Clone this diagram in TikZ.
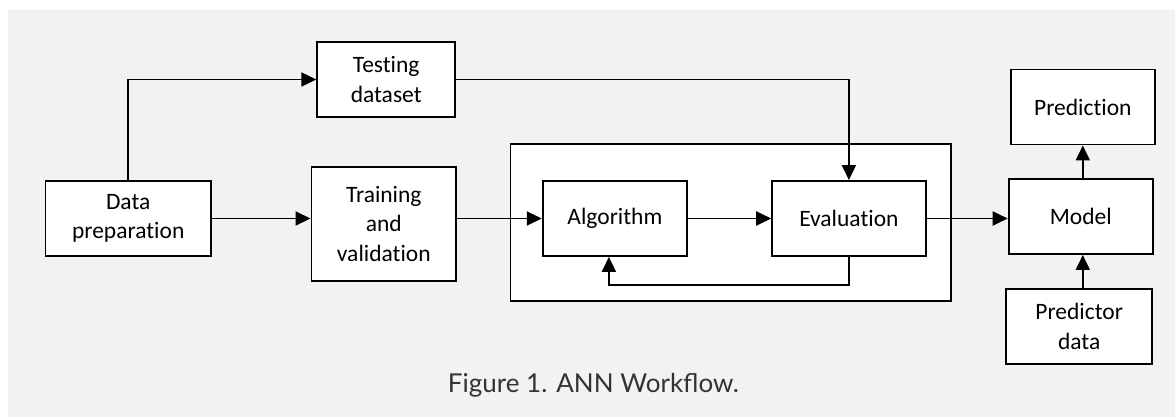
\documentclass[tikz,border=0pt]{standalone}
\usepackage{fontspec}
\setmainfont{Carlito}[RawFeature={-liga;-clig;-dlig}]
\newfontfamily\capfont{Lato}
\usetikzlibrary{arrows.meta,calc}
\definecolor{bgcol}{HTML}{F2F2F2}
\definecolor{capcol}{HTML}{333333}
\tikzset{
  box/.style={draw=black, fill=white, line width=1.9pt, align=center, inner sep=0pt,
    font=\fontsize{23.5}{29.5}\selectfont},
  conn/.style={draw=black, line width=1.9pt, -{Triangle[length=15pt,width=14pt]}},
}
\begin{document}
\begin{tikzpicture}[x=1pt,y=-1pt]
\useasboundingbox (0,0) rectangle (1175,417);
\fill[white] (0,0) rectangle (1175,417);
\fill[bgcol] (8,10) rectangle (1175,417);

\node[box, minimum width=440.7pt, minimum height=156.7pt] (outer) at (730.85,222.35) {};

\node[box, minimum width=165.4pt, minimum height=75pt] (dp) at (128.2,218.5) {Data\\preparation};
\node[box, minimum width=137.8pt, minimum height=75pt] (test) at (386.2,79.5) {Testing\\dataset};
\node[box, minimum width=144.7pt, minimum height=114pt] (train) at (383.8,224) {Training\\and\\validation};
\node[box, minimum width=144.4pt, minimum height=75pt] (alg) at (614.9,218.5) {Algorithm};
\node[box, minimum width=153.5pt, minimum height=75pt] (eval) at (848.9,218.5) {Evaluation};
\node[box, minimum width=144.3pt, minimum height=75pt] (model) at (1080.8,216.5) {Model};
\node[box, minimum width=143.9pt, minimum height=75pt] (pred) at (1082.8,107) {Prediction};
\node[box, minimum width=145.8pt, minimum height=75pt] (pdata) at (1079.2,326.2) {Predictor\\data};

\draw[conn] (dp.north) |- (test.west);
\draw[conn] (dp.east) -- (dp.east -| train.west);
\draw[conn] (alg.west -| train.east) -- (alg.west);
\draw[conn] (test.east) -| (eval.north);
\draw[conn] (alg.east) -- (eval.west);
\draw[conn] (eval.south) -- ++(0,28) -| ($(alg.south)+(-6,0)$);
\draw[conn] (eval.east) -- (eval.east -| model.west);
\draw[conn] (pred.south |- model.north) -- (pred.south);
\draw[conn] (pred.south |- pdata.north) -- (pred.south |- model.south);

\node[anchor=base, text=capcol, font=\capfont\fontsize{26}{30}\selectfont, inner sep=0pt] (cap) at (593.5,392) {Figure 1. ANN Workflow.};
\end{tikzpicture}
\end{document}
